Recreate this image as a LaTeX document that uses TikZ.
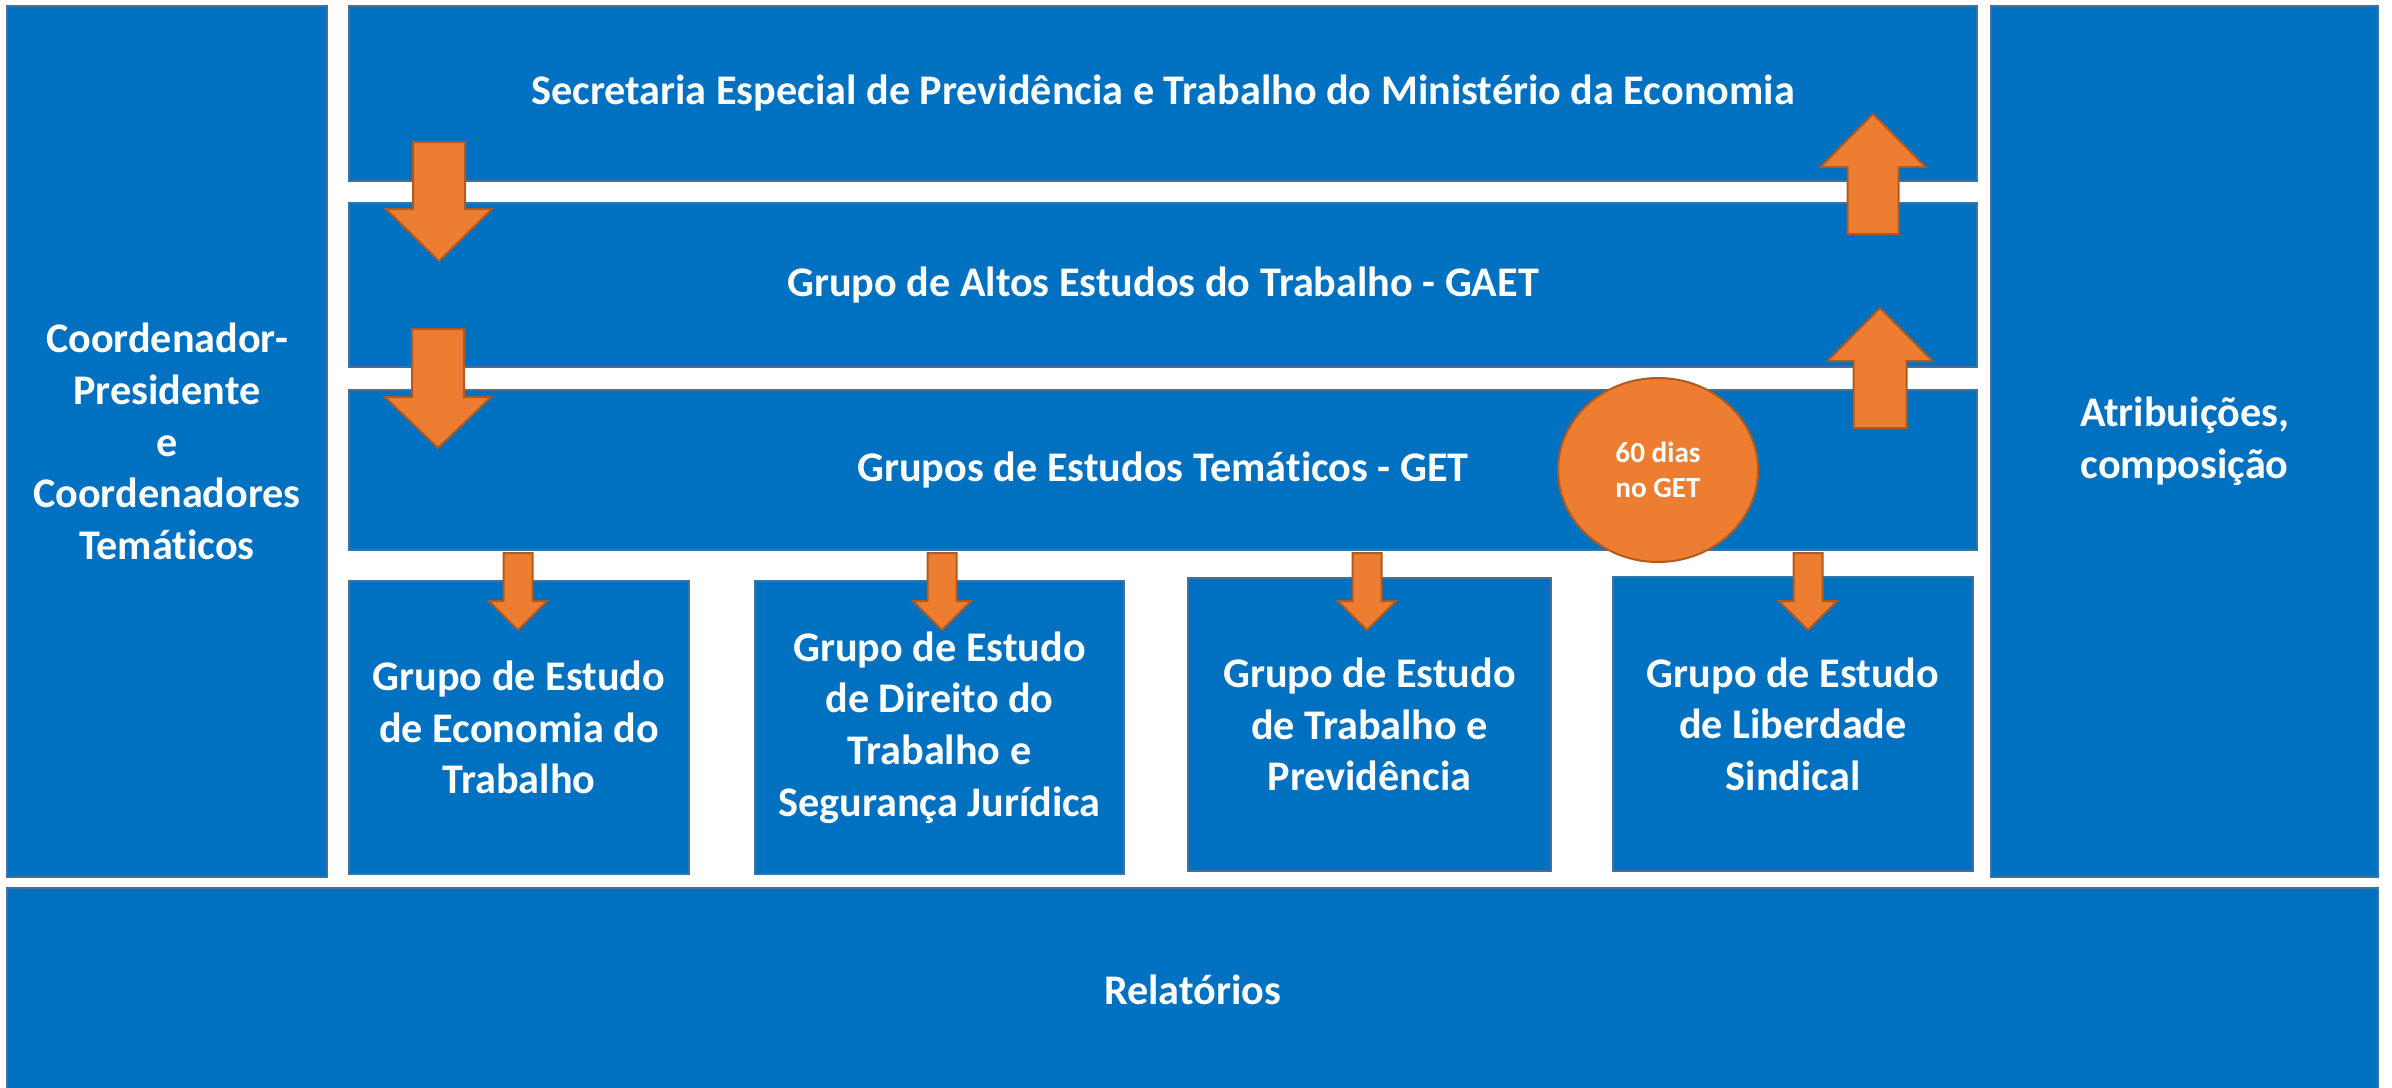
\documentclass[tikz,border=0pt]{standalone}
\usepackage{fontspec}
\setmainfont{Carlito}[Ligatures=NoCommon]
\usetikzlibrary{shapes.geometric}
\definecolor{boxblue}{HTML}{0070C0}
\definecolor{boxedge}{HTML}{41719C}
\definecolor{arroworange}{HTML}{ED7D31}
\definecolor{arrowedge}{HTML}{AE5A21}
% block arrow: centre x, start y, head-base y, tip y, shaft width, head width
\newcommand\blockarrow[6]{\draw[blockarr] ({#1-#5/2},#2) -- ({#1+#5/2},#2) -- ({#1+#5/2},#3) -- ({#1+#6/2},#3) -- (#1,#4) -- ({#1-#6/2},#3) -- ({#1-#5/2},#3) -- cycle;}
\begin{document}
\begin{tikzpicture}[x=0.5pt,y=-0.5pt,
  panel/.style={draw=boxedge, line width=1pt, fill=boxblue, text=white,
    font=\fontsize{21.1}{25.8}\selectfont\bfseries, align=center, inner sep=0pt},
  blockarr/.style={draw=arrowedge, line width=1pt, fill=arroworange, line join=miter},
  badge/.style={ellipse, draw=arrowedge, line width=1pt, fill=arroworange, text=white,
    font=\fontsize{14.6}{17.6}\selectfont\bfseries, align=center, inner sep=0pt}]
\useasboundingbox (0,0) rectangle (2392,1087);
\fill[white] (0,0) rectangle (2392,1087);
% side columns
\node[panel, minimum width=160pt, minimum height=435.5pt] (coord) at (167,441.5)
  {Coordenador-\\Presidente\\e\\Coordenadores\\Temáticos};
\node[panel, minimum width=193.5pt, minimum height=435.5pt] (attr) at (2184.5,441.5)
  {Atribuições,\\composição};
% horizontal bands
\node[panel, minimum width=814pt, minimum height=87.5pt] (sec) at (1163,93.5)
  {Secretaria Especial de Previdência e Trabalho do Ministério da Economia};
\node[panel, minimum width=814pt, minimum height=82pt] (gaet) at (1163,285)
  {Grupo de Altos Estudos do Trabalho - GAET};
\node[panel, minimum width=814pt, minimum height=80pt] (get) at (1163,470)
  {Grupos de Estudos Temáticos - GET};
% study groups
\node[panel, minimum width=170pt, minimum height=146.5pt] (g1) at (519,727.5)
  {Grupo de Estudo\\de Economia do\\Trabalho};
\node[panel, minimum width=184.5pt, minimum height=146.5pt] (g2) at (939.5,727.5)
  {Grupo de Estudo\\de Direito do\\Trabalho e\\Segurança Jurídica};
\node[panel, minimum width=181.5pt, minimum height=146.5pt] (g3) at (1369.5,724.5)
  {Grupo de Estudo\\de Trabalho e\\Previdência};
\node[panel, minimum width=180pt, minimum height=147pt] (g4) at (1793,724)
  {Grupo de Estudo\\de Liberdade\\Sindical};
% reports
\node[panel, minimum width=1185.5pt, minimum height=102pt] (rel) at (1192.5,990)
  {Relatórios};
% big arrows down (left)
\blockarrow{439}{142}{209}{261}{52}{106}
\blockarrow{438}{329}{397}{448}{52}{106}
% big arrows up (right)
\blockarrow{1873}{234}{167}{114}{51}{105}
\blockarrow{1880}{428}{361}{308}{53}{105}
% small arrows into study groups
\blockarrow{518}{553}{601}{630}{29}{58}
\blockarrow{942}{553}{601}{630}{29}{58}
\blockarrow{1367}{553}{601}{630}{29}{58}
\blockarrow{1808}{553}{601}{630}{29}{58}
% badge
\node[badge, minimum width=100pt, minimum height=92pt] (days) at (1658,470) {60 dias\\no GET};
\end{tikzpicture}
\end{document}
